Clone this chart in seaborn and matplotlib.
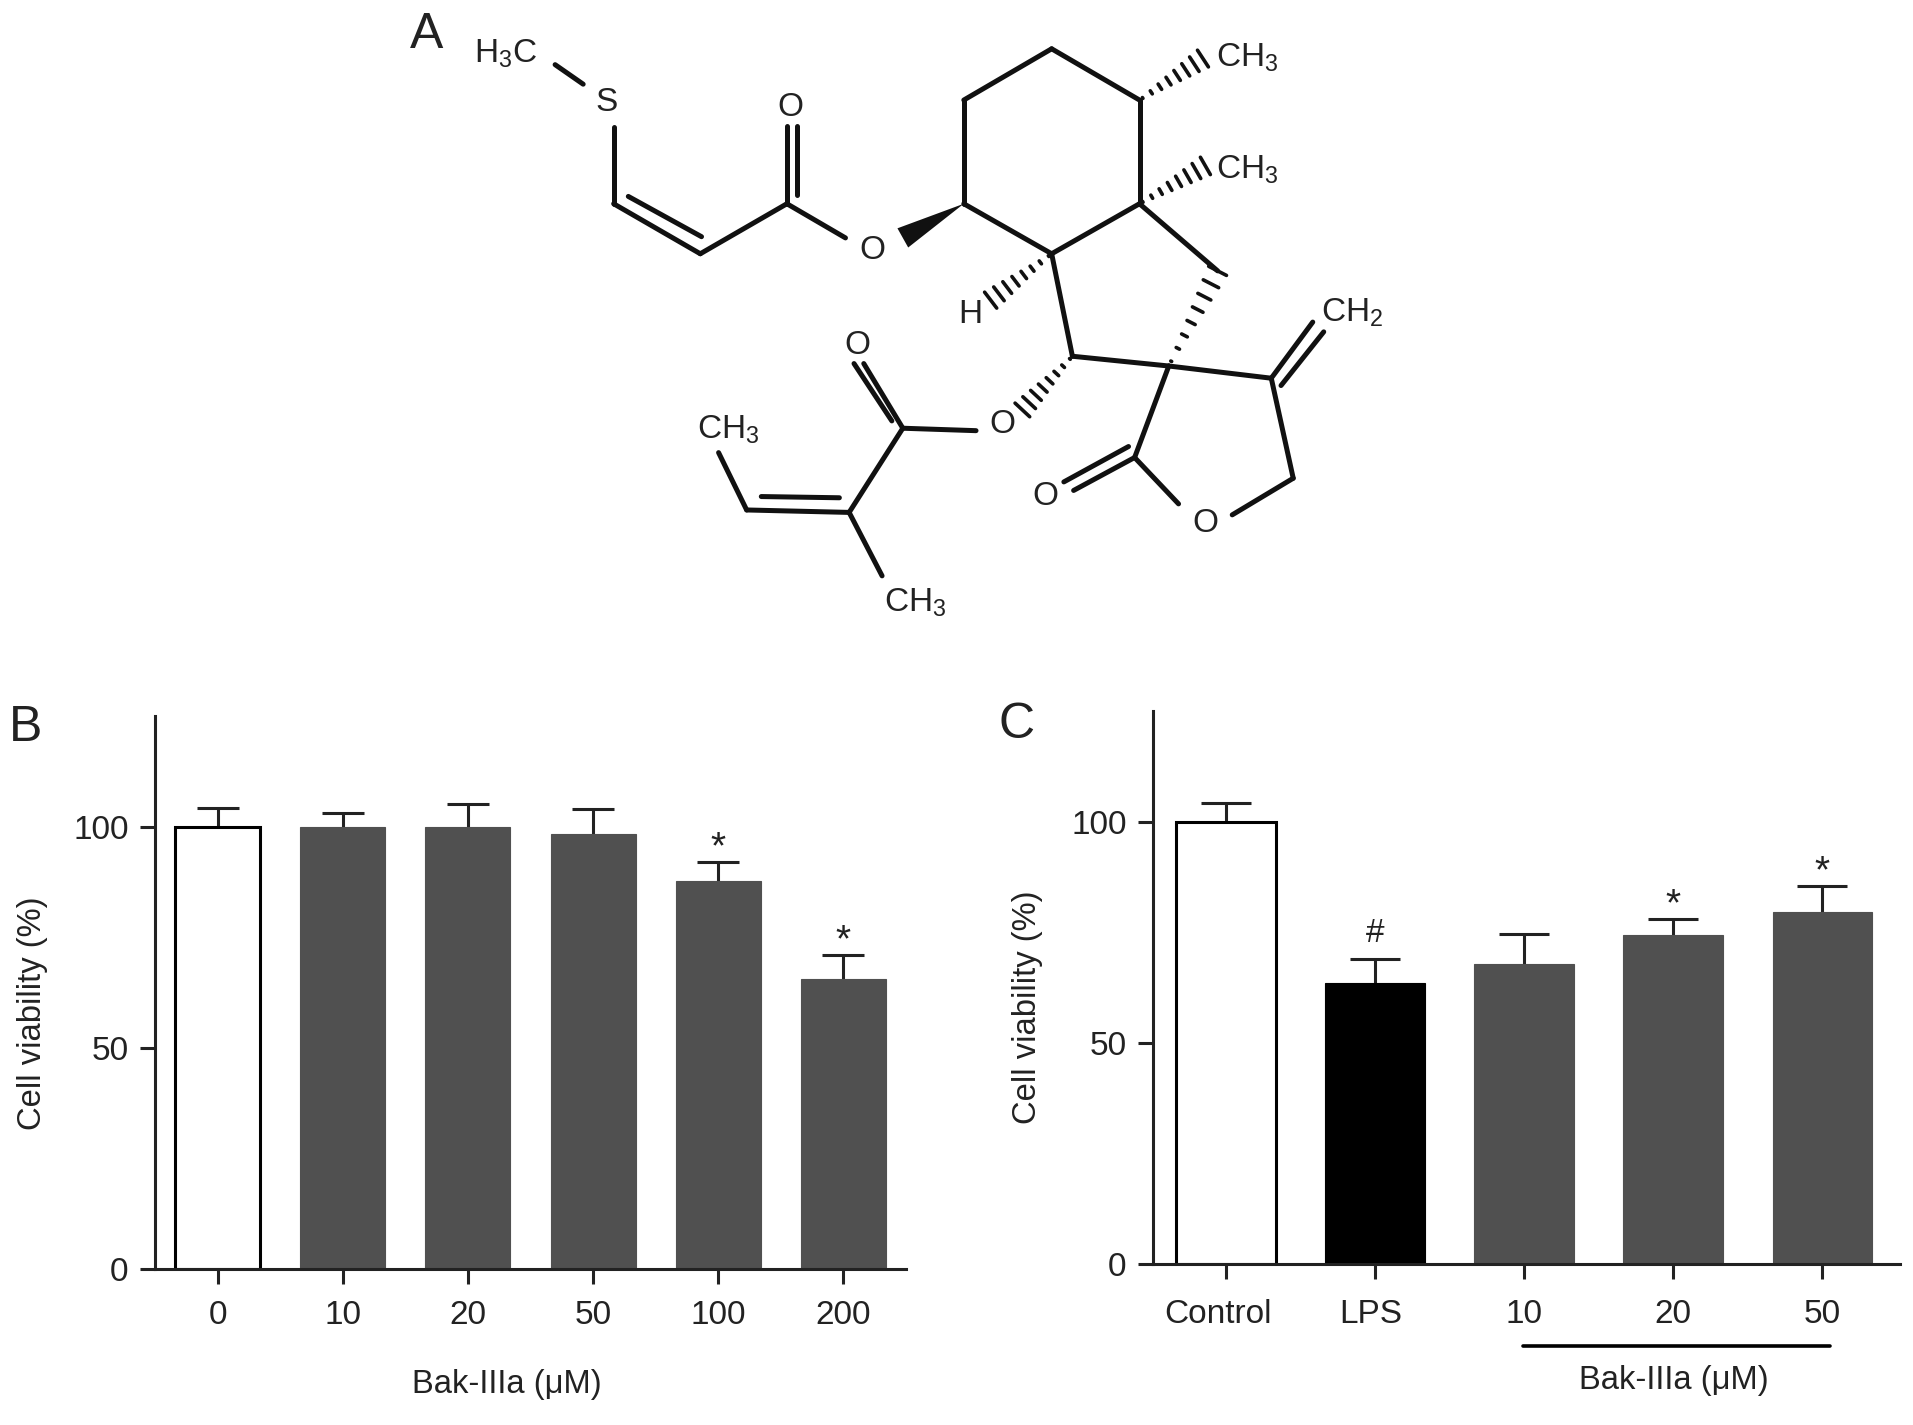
import numpy as np
import pandas as pd
import matplotlib

matplotlib.use("Agg")
import matplotlib.pyplot as plt
import seaborn as sns
from matplotlib.patches import Polygon
from matplotlib.transforms import ScaledTranslation

# panel B
doses_b = ["0", "10", "20", "50", "100", "200"]
means_b = [100, 100, 100, 98.3, 87.8, 65.5]
errs_b = [4.1, 3.0, 5.0, 5.6, 4.2, 5.5]
marks_b = ["", "", "", "", "*", "*"]
colors_b = ["white", "#505050", "#505050", "#505050", "#505050", "#505050"]

# panel C
groups_c = ["Control", "LPS", "10", "20", "50"]
means_c = [100, 63.6, 67.7, 74.3, 79.5]
errs_c = [4.1, 5.3, 6.9, 3.7, 5.9]
marks_c = ["", "#", "", "*", "*"]
colors_c = ["white", "black", "#505050", "#505050", "#505050"]

yticks = [0, 50, 100]

# panel A, structure drawn in the coordinates of the shrunk picture
atoms = {
    "r1": (862, 40), "r2": (934, 82), "r3": (934, 167), "r4": (862, 208),
    "r5": (790, 167), "r6": (790, 82), "p1": (879, 292), "p2": (958, 300),
    "p3": (998, 222), "l1": (930, 375), "l2": (1060, 392), "l3": (1042, 310),
    "c1": (645, 167), "c2": (574, 208), "c3": (503, 167), "c4": (740, 351),
    "c5": (696, 420), "c6": (612, 418),
}
bonds = [
    ("r1", "r2"), ("r2", "r3"), ("r3", "r4"), ("r4", "r5"), ("r5", "r6"), ("r6", "r1"),
    ("r3", "p3"), ("r4", "p1"), ("p1", "p2"), ("p2", "l3"), ("p2", "l1"), ("l2", "l3"),
    ("c1", "c2"), ("c2", "c3"), ("c4", "c5"), ("c5", "c6"),
]
extra_lines = [
    ((645, 167), (693, 195)), ((645, 167), (645, 103)), ((653, 160), (653, 103)),
    ((515, 161), (575, 194)), ((503, 167), (503, 104)), ((478, 69), (455, 53)),
    ((800, 353), (740, 351)), ((740, 351), (708, 298)), ((731, 345), (700, 298)),
    ((688, 408), (624, 407)), ((612, 418), (589, 371)), ((696, 420), (723, 472)),
    ((930, 375), (880, 402)), ((925, 366), (872, 395)), ((930, 375), (966, 413)),
    ((1010, 422), (1060, 392)), ((1042, 310), (1076, 264)), ((1050, 316), (1085, 272)),
]
hash_bonds = [
    ((934, 82), (986, 48)), ((934, 167), (988, 136)), ((862, 208), (812, 246)),
    ((958, 300), (998, 222)), ((879, 292), (838, 336)),
]
wedges = [((790, 167), (740, 195))]
atom_labels = [
    (414, 44, "H$_3$C"), (497, 84, "S"), (648, 88, "O"), (715, 205, "O"),
    (1022, 47, "CH$_3$"), (1022, 139, "CH$_3$"), (795, 258, "H"), (1108, 256, "CH$_2$"),
    (703, 283, "O"), (822, 348, "O"), (597, 352, "CH$_3$"), (750, 494, "CH$_3$"),
    (857, 407, "O"), (988, 429, "O"),
]

sns.set_theme(style="ticks")
plt.rcParams["font.family"] = ["Liberation Sans", "DejaVu Sans"]
plt.rcParams["mathtext.default"] = "regular"
plt.rcParams["mathtext.fontset"] = "custom"
plt.rcParams["mathtext.rm"] = "Liberation Sans"

W, H = 1913, 1425
TEXT = "#222222"
fig = plt.figure(figsize=(W / 100, H / 100), dpi=100)


def panel(left, right, top, bottom):
    return fig.add_axes([left / W, 1 - bottom / H, (right - left) / W, (bottom - top) / H])


def bars(ax, labels, means, errs, marks, colors, width, capsize, xlim, xpad):
    df = pd.DataFrame({"group": labels, "value": means, "hue": [str(i) for i in range(len(labels))]})
    sns.barplot(
        data=df, x="group", y="value", hue="hue", palette=colors, dodge=False,
        width=width, legend=False, errorbar=None, saturation=1, ax=ax,
    )
    for patch in ax.patches:
        patch.set_zorder(2)
        white = patch.get_facecolor()[:3] == (1.0, 1.0, 1.0)
        patch.set_edgecolor("black" if white else patch.get_facecolor())
        patch.set_linewidth(2.2 if white else 0.8)
    xs = np.arange(len(labels))
    _, caps, _ = ax.errorbar(
        xs, means, yerr=[np.zeros(len(xs)), errs], fmt="none", ecolor="#222222",
        elinewidth=2.2, capthick=2.2, capsize=capsize, zorder=1,
    )
    caps[0].set_visible(False)
    for x, m, e, mark in zip(xs, means, errs, marks):
        if mark:
            ax.annotate(
                mark, (x, m + e), xytext=(0, 7.5 if mark == "#" else -3), textcoords="offset points",
                ha="center", va="bottom", fontsize=24 if mark == "#" else 28, color=TEXT,
            )
    ax.set_xlim(*xlim)
    ax.set_ylim(0, 125)
    ax.set_yticks(yticks)
    ax.set_xlabel("")
    ax.set_ylabel("Cell viability (%)", fontsize=23.6, color=TEXT)
    ax.tick_params(length=11, width=2.2, color="#222222", labelsize=24, labelcolor=TEXT, pad=8)
    ax.tick_params(axis="x", pad=xpad)
    for side in ["top", "right"]:
        ax.spines[side].set_visible(False)
    for side in ["left", "bottom"]:
        ax.spines[side].set_linewidth(2.2)
        ax.spines[side].set_color("#222222")


ax_b = panel(155, 906, 716, 1269)
bars(ax_b, doses_b, means_b, errs_b, marks_b, colors_b, 0.68, 15, (-0.5, 5.5), 11)
ax_b.yaxis.set_label_coords(-0.142, 0.463)

ax_c = panel(1153, 1900, 711, 1264)
bars(ax_c, groups_c, means_c, errs_c, marks_c, colors_c, 0.67, 18, (-0.49, 4.52), 14)
ax_c.yaxis.set_label_coords(-0.147, 0.465)
# the two named groups sit a little left of their ticks
for label, shift in zip(ax_c.get_xticklabels()[:2], [-6, -3]):
    label.set_transform(label.get_transform() + ScaledTranslation(shift / 72, 0, fig.dpi_scale_trans))

# overlay in picture coordinates for panel letters, structure and the bracket
over = fig.add_axes([0, 0, 1, 1], facecolor="none")
over.set_xlim(0, W)
over.set_ylim(H, 0)
over.axis("off")
S = W / 1568


def seg(p, q, lw=3.6):
    over.plot([p[0] * S, q[0] * S], [p[1] * S, q[1] * S], color="#111111", lw=lw, solid_capstyle="round")


def hashed(p, q, n=8, tip=10):
    p = np.array(p, float) * S
    q = np.array(q, float) * S
    d = q - p
    perp = np.array([-d[1], d[0]]) / np.hypot(*d)
    for t in np.linspace(0.05, 1, n):
        c = p + d * t
        half = tip * t
        over.plot(*zip(c - perp * half, c + perp * half), color="#111111", lw=2.6)


for a, b in bonds:
    seg(atoms[a], atoms[b])
for p, q in extra_lines:
    seg(p, q)
for p, q in hash_bonds:
    hashed(p, q)
for p, q in wedges:
    p = np.array(p, float) * S
    q = np.array(q, float) * S
    d = q - p
    perp = np.array([-d[1], d[0]]) / np.hypot(*d) * 11
    over.add_patch(Polygon([p, q + perp, q - perp], color="#111111", lw=0))
for x, y, s in atom_labels:
    over.text(x * S, y * S, s, ha="center", va="center", fontsize=24, color=TEXT)

for x, y, s in [(350, 29, "A"), (21, 597, "B"), (833, 594, "C")]:
    over.text(x * S, y * S, s, ha="center", va="center", fontsize=36, color=TEXT)

over.text(507, 1384, "Bak-IIIa (μM)", ha="center", va="center", fontsize=23.6, color=TEXT)
over.text(1674, 1381, "Bak-IIIa (μM)", ha="center", va="center", fontsize=23.6, color=TEXT)
over.plot([1523, 1830], [1346, 1346], color="black", lw=2.6)

fig.savefig("out.png", dpi=100, facecolor="white")
